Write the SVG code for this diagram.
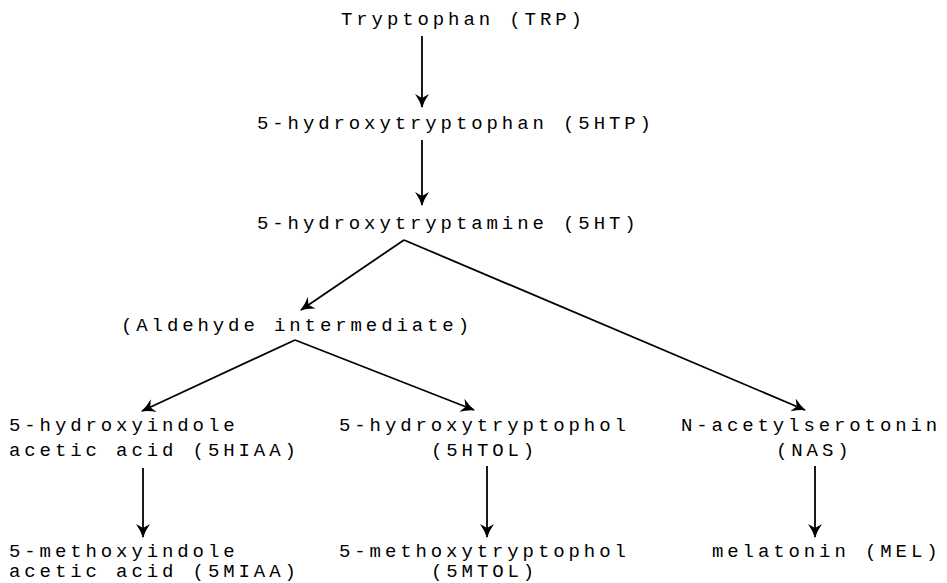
<svg xmlns="http://www.w3.org/2000/svg" width="947" height="583" viewBox="0 0 947 583">
<style>
text{font-family:"Liberation Mono","DejaVu Sans Mono",monospace;font-size:19px;letter-spacing:3.9px;fill:#000}
.c line{stroke:#000;stroke-width:1.8;fill:none}
</style>
<defs>
<marker id="ah" viewBox="0 0 14 14" refX="13" refY="7" markerWidth="14" markerHeight="14" markerUnits="userSpaceOnUse" orient="auto">
<path d="M0,0 Q7,5 14,7 Q7,9 0,14 L4,7 Z" fill="#000"/>
</marker>
</defs>
<rect width="947" height="583" fill="#fff"/>
<g class="c" id="connectors">
<line x1="422" y1="36" x2="422" y2="107" marker-end="url(#ah)"/>
<line x1="422" y1="140" x2="422" y2="205" marker-end="url(#ah)"/>
<line x1="404" y1="240" x2="301" y2="310" marker-end="url(#ah)"/>
<line x1="404" y1="240" x2="805" y2="410" marker-end="url(#ah)"/>
<line x1="295" y1="340" x2="142" y2="411" marker-end="url(#ah)"/>
<line x1="295" y1="340" x2="474" y2="410" marker-end="url(#ah)"/>
<line x1="143" y1="468" x2="143" y2="537" marker-end="url(#ah)"/>
<line x1="487" y1="466" x2="487" y2="537" marker-end="url(#ah)"/>
<line x1="815" y1="466" x2="815" y2="537" marker-end="url(#ah)"/>
</g>
<g id="trp"><text x="341" y="25">Tryptophan (TRP)</text></g>
<g id="htp"><text x="257" y="129">5-hydroxytryptophan (5HTP)</text></g>
<g id="ht"><text x="257" y="229">5-hydroxytryptamine (5HT)</text></g>
<g id="ald"><text x="121" y="331">(Aldehyde intermediate)</text></g>
<g id="hiaa"><text x="9" y="431">5-hydroxyindole</text><text x="9" y="456">acetic acid (5HIAA)</text></g>
<g id="htol"><text x="339" y="431">5-hydroxytryptophol</text><text x="431" y="456">(5HTOL)</text></g>
<g id="nas"><text x="681" y="431">N-acetylserotonin</text><text x="776" y="456">(NAS)</text></g>
<g id="miaa"><text x="9" y="557">5-methoxyindole</text><text x="9" y="577">acetic acid (5MIAA)</text></g>
<g id="mtol"><text x="339" y="557">5-methoxytryptophol</text><text x="431" y="577">(5MTOL)</text></g>
<g id="mel"><text x="712" y="557">melatonin (MEL)</text></g>
</svg>
